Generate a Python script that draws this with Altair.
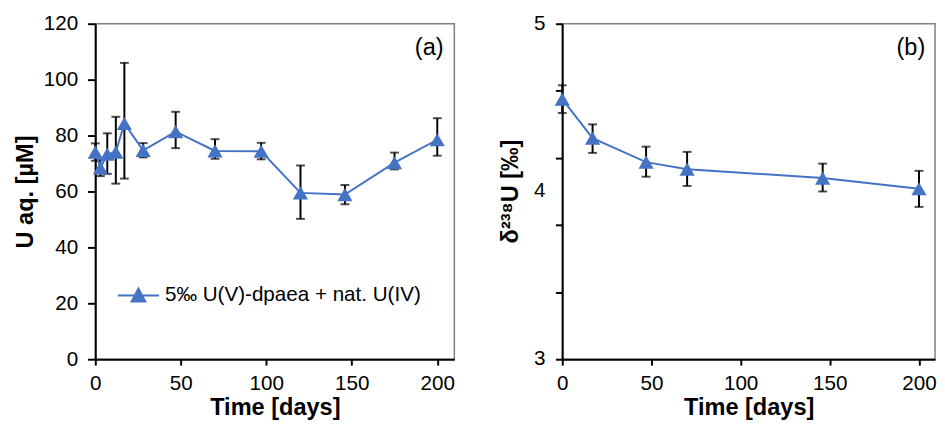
import altair as alt
import pandas as pd

# Panel (a): aqueous U concentration
days_a = [0, 3, 7, 12, 17, 28, 47, 70, 97, 120, 146, 175, 200]
u_aq = [74.1, 68.4, 73.3, 74.1, 84.3, 74.7, 81.4, 74.5, 74.4, 59.5, 58.9, 70.3, 78.5]
u_err_lo = [71.0, 65.5, 66.3, 62.8, 64.6, 72.2, 75.5, 71.7, 71.5, 50.2, 55.4, 67.9, 72.8]
u_err_hi = [77.2, 71.3, 80.8, 86.7, 106.0, 77.3, 88.5, 78.7, 77.4, 69.3, 62.3, 73.9, 86.2]

# Panel (b): delta 238U
days_b = [0, 17, 47, 70, 146, 200]
d238 = [4.551, 4.318, 4.175, 4.133, 4.080, 4.016]
d_err_lo = [4.468, 4.230, 4.088, 4.033, 4.000, 3.908]
d_err_hi = [4.633, 4.400, 4.267, 4.236, 4.166, 4.123]
yb_ticks = [3.0, 3.2, 3.4, 3.6, 3.8, 4.0, 4.2, 4.4, 4.6, 4.8, 5.0]
yb_labels = [3, 4, 5]

series_name = "5‰ U(V)-dpaea + nat. U(IV)"
y_title_b = "δ²³⁸U [‰]"
BLUE = "#4472C4"
FONT = "Liberation Sans"

df_a = pd.DataFrame({"day": days_a, "u": u_aq, "lo": u_err_lo, "hi": u_err_hi,
                     "series": [series_name] * len(days_a)})
df_b = pd.DataFrame({"day": days_b, "d": d238, "lo": d_err_lo, "hi": d_err_hi})
df_blab = pd.DataFrame({"v": yb_labels, "t": [str(v) for v in yb_labels]})

W_A, W_B, H = 366, 380, 342
XDOM_A = [0, 210]
XDOM_B = [0, 209]
MSIZE = 240

def xaxis():
    return alt.Axis(values=[0, 50, 100, 150, 200], title="Time [days]", grid=False,
                    labelFontSize=21, titleFontSize=24, titleFontWeight="bold",
                    labelPadding=8, titlePadding=2, tickSize=6, tickWidth=2,
                    domainWidth=2, domainColor="black", tickColor="black",
                    labelColor="black", titleColor="black", labelFont=FONT, titleFont=FONT,
                    labelFlush=False, labelOverlap=False)

# ---------- panel a ----------
xa = alt.X("day:Q", scale=alt.Scale(domain=XDOM_A, nice=False), axis=xaxis())
ya_axis = alt.Axis(values=list(range(0, 121, 20)), title="U aq. [µM]", grid=False,
                   labelFontSize=21, titleFontSize=24, titleFontWeight="bold",
                   labelPadding=10, titlePadding=6, tickSize=8, tickWidth=2,
                   domainWidth=2, domainColor="black", tickColor="black",
                   labelColor="black", titleColor="black", labelFont=FONT, titleFont=FONT,
                   labelOverlap=False)
ya = alt.Y("u:Q", scale=alt.Scale(domain=[0, 120], nice=False), axis=ya_axis)

base_a = alt.Chart(df_a)
rule_a = base_a.mark_rule(color="black", strokeWidth=2).encode(
    x=alt.X("day:Q", scale=alt.Scale(domain=XDOM_A, nice=False)),
    y=alt.Y("lo:Q", scale=alt.Scale(domain=[0, 120], nice=False)), y2="hi:Q")
cap_lo_a = base_a.mark_tick(color="black", thickness=2, size=9, orient="horizontal").encode(
    x="day:Q", y="lo:Q")
cap_hi_a = base_a.mark_tick(color="black", thickness=2, size=9, orient="horizontal").encode(
    x="day:Q", y="hi:Q")
line_a = base_a.mark_line(strokeWidth=2).encode(
    x=xa, y=ya,
    color=alt.Color("series:N", scale=alt.Scale(range=[BLUE]),
                    legend=alt.Legend(title=None, orient="none", legendX=22, legendY=255,
                                      symbolType="M-1,0L1,0M-0.33,0.29L0,-0.33L0.33,0.29Z",
                                      symbolSize=1764, symbolStrokeWidth=2,
                                      symbolFillColor=BLUE, symbolStrokeColor=BLUE,
                                      labelFontSize=21, labelFont=FONT, labelColor="black",
                                      labelOffset=5, labelLimit=400)))
pts_a = base_a.mark_point(shape="triangle-up", filled=True, size=MSIZE, opacity=1).encode(
    x="day:Q", y="u:Q",
    color=alt.Color("series:N", scale=alt.Scale(range=[BLUE]), legend=None))
lab_a = alt.Chart(pd.DataFrame({"t": ["(a)"]})).mark_text(
    fontSize=24, font=FONT, align="right", baseline="middle", color="black").encode(
    x=alt.value(W_A - 11), y=alt.value(25), text="t:N")

panel_a = alt.layer(rule_a, cap_lo_a, cap_hi_a, line_a, pts_a, lab_a).properties(
    width=W_A, height=H)

# ---------- panel b ----------
yscale_b = alt.Scale(domain=[3, 5], nice=False)
xb = alt.X("day:Q", scale=alt.Scale(domain=XDOM_B, nice=False), axis=xaxis())
yb_axis = alt.Axis(values=yb_ticks, title=None, grid=False, labels=False,
                   tickSize=7, tickWidth=2, domainWidth=2, domainColor="black",
                   tickColor="black", orient="left")

base_b = alt.Chart(df_b)
rule_b = base_b.mark_rule(color="black", strokeWidth=2).encode(
    x=alt.X("day:Q", scale=alt.Scale(domain=XDOM_B, nice=False)),
    y=alt.Y("lo:Q", scale=yscale_b), y2="hi:Q")
cap_lo_b = base_b.mark_tick(color="black", thickness=2, size=9, orient="horizontal").encode(
    x="day:Q", y="lo:Q")
cap_hi_b = base_b.mark_tick(color="black", thickness=2, size=9, orient="horizontal").encode(
    x="day:Q", y="hi:Q")
line_b = base_b.mark_line(strokeWidth=2, color=BLUE).encode(
    x=xb, y=alt.Y("d:Q", scale=yscale_b, axis=yb_axis))
pts_b = base_b.mark_point(shape="triangle-up", filled=True, size=MSIZE, opacity=1,
                          color=BLUE).encode(x="day:Q", y="d:Q")
ylab_b = alt.Chart(df_blab).mark_text(
    fontSize=21, font=FONT, align="right", baseline="middle", color="black").encode(
    x=alt.value(-17), y=alt.Y("v:Q", scale=yscale_b), text="t:N")
lab_b = alt.Chart(pd.DataFrame({"t": ["(b)"]})).mark_text(
    fontSize=24, font=FONT, align="right", baseline="middle", color="black").encode(
    x=alt.value(W_B - 10), y=alt.value(25), text="t:N")
ytitle_b = alt.Chart(pd.DataFrame({"t": [y_title_b]})).mark_text(
    fontSize=24, font=FONT, fontWeight="bold", angle=270, align="center",
    baseline="middle", color="black").encode(
    x=alt.value(-52), y=alt.value(H / 2), text="t:N")

panel_b = alt.layer(rule_b, cap_lo_b, cap_hi_b, line_b, pts_b, ylab_b, lab_b,
                    ytitle_b).properties(width=W_B, height=H)

chart = alt.hconcat(panel_a, panel_b, spacing=44).resolve_legend(
    color="independent").resolve_scale(color="independent").configure_view(
    stroke="#7f7f7f", strokeWidth=1.5).properties(
    padding={"left": 5, "top": 0, "right": 0, "bottom": 0}, background="white")

chart.save("out.html", embed_options={"renderer": "svg", "actions": False})
